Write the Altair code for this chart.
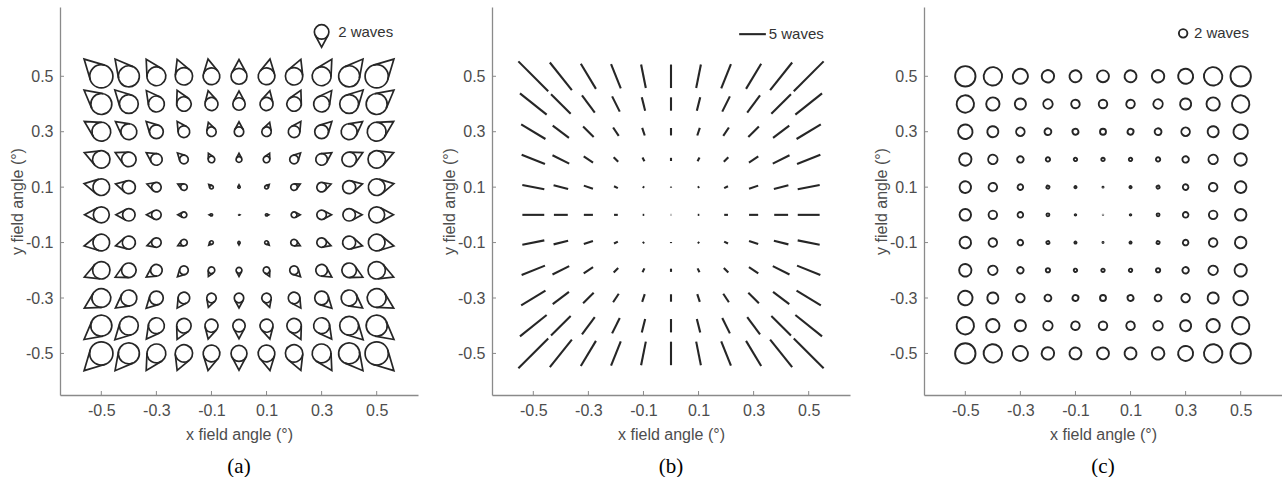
import altair as alt
import pandas as pd
import numpy as np

# ---------------- data ----------------
xs = [-0.5, -0.4, -0.3, -0.2, -0.1, 0.0, 0.1, 0.2, 0.3, 0.4, 0.5]
ys = [0.5, 0.4, 0.3, 0.2, 0.1, 0.0, -0.1, -0.2, -0.3, -0.4, -0.5]   # rows, top to bottom
tick_vals = [-0.5, -0.3, -0.1, 0.1, 0.3, 0.5]

# (a) coma blur circle diameter, waves
coma_rows = [
    [3.2, 2.9, 2.6, 2.4, 2.3, 2.2, 2.3, 2.4, 2.6, 2.9, 3.2],
    [2.9, 2.6, 2.2, 2.0, 1.8, 1.7, 1.8, 2.0, 2.2, 2.6, 2.9],
    [2.6, 2.2, 1.9, 1.6, 1.3, 1.3, 1.3, 1.6, 1.9, 2.2, 2.6],
    [2.4, 2.0, 1.6, 1.2, 0.9, 0.8, 0.9, 1.2, 1.6, 2.0, 2.4],
    [2.3, 1.8, 1.3, 0.9, 0.5, 0.3, 0.5, 0.9, 1.3, 1.8, 2.3],
    [2.2, 1.7, 1.3, 0.8, 0.3, 0.1, 0.3, 0.8, 1.3, 1.7, 2.2],
    [2.3, 1.8, 1.3, 0.9, 0.5, 0.3, 0.5, 0.9, 1.3, 1.8, 2.3],
    [2.4, 2.0, 1.6, 1.2, 0.9, 0.8, 0.9, 1.2, 1.6, 2.0, 2.4],
    [2.6, 2.2, 1.9, 1.6, 1.3, 1.3, 1.3, 1.6, 1.9, 2.2, 2.6],
    [2.9, 2.6, 2.2, 2.0, 1.8, 1.7, 1.8, 2.0, 2.2, 2.6, 2.9],
    [3.2, 2.9, 2.6, 2.4, 2.3, 2.2, 2.3, 2.4, 2.6, 2.9, 3.2],
]

# (b) astigmatism line length, waves
astig_rows = [
    [7.9, 6.6, 5.5, 4.9, 4.5, 4.4, 4.5, 4.9, 5.5, 6.6, 7.9],
    [6.4, 5.2, 4.0, 3.2, 2.6, 2.5, 2.6, 3.2, 4.0, 5.2, 6.4],
    [5.3, 3.8, 2.8, 1.9, 1.5, 1.4, 1.5, 1.9, 2.8, 3.8, 5.3],
    [4.7, 3.5, 2.1, 1.2, 0.8, 0.6, 0.8, 1.2, 2.1, 3.5, 4.7],
    [4.2, 2.8, 1.8, 0.8, 0.35, 0.2, 0.35, 0.8, 1.8, 2.8, 4.2],
    [4.1, 2.6, 1.7, 0.7, 0.3, 0.1, 0.3, 0.7, 1.7, 2.6, 4.1],
    [4.2, 2.8, 1.8, 0.8, 0.35, 0.2, 0.35, 0.8, 1.8, 2.8, 4.2],
    [4.7, 3.5, 2.1, 1.2, 0.8, 0.6, 0.8, 1.2, 2.1, 3.5, 4.7],
    [5.3, 3.8, 2.8, 1.9, 1.5, 1.4, 1.5, 1.9, 2.8, 3.8, 5.3],
    [6.4, 5.2, 4.0, 3.2, 2.6, 2.5, 2.6, 3.2, 4.0, 5.2, 6.4],
    [7.9, 6.6, 5.5, 4.9, 4.5, 4.4, 4.5, 4.9, 5.5, 6.6, 7.9],
]

# (c) defocus blur circle diameter, waves
defocus_rows = [
    [4.8, 4.3, 3.5, 2.9, 2.8, 2.8, 2.8, 2.9, 3.5, 4.3, 4.8],
    [4.1, 3.1, 2.6, 2.2, 2.0, 2.0, 2.0, 2.2, 2.6, 3.1, 4.1],
    [3.4, 2.6, 2.0, 1.6, 1.4, 1.4, 1.4, 1.6, 2.0, 2.6, 3.4],
    [2.9, 2.2, 1.5, 1.0, 0.8, 0.8, 0.8, 1.0, 1.5, 2.2, 2.9],
    [2.7, 2.0, 1.3, 0.7, 0.5, 0.25, 0.5, 0.7, 1.3, 2.0, 2.7],
    [2.7, 2.0, 1.3, 0.7, 0.35, 0.1, 0.35, 0.7, 1.3, 2.0, 2.7],
    [2.7, 2.0, 1.3, 0.7, 0.5, 0.25, 0.5, 0.7, 1.3, 2.0, 2.7],
    [2.9, 2.2, 1.5, 1.0, 0.8, 0.8, 0.8, 1.0, 1.5, 2.2, 2.9],
    [3.4, 2.6, 2.0, 1.6, 1.4, 1.4, 1.4, 1.6, 2.0, 2.6, 3.4],
    [4.1, 3.1, 2.6, 2.2, 2.0, 2.0, 2.0, 2.2, 2.6, 3.1, 4.1],
    [4.8, 4.3, 3.5, 2.9, 2.8, 2.8, 2.8, 2.9, 3.5, 4.3, 4.8],
]

legend_labels = ["2 waves", "5 waves", "2 waves"]
legend_values = [2, 5, 2]
panel_labels = ["(a)", "(b)", "(c)"]

# ---------------- styling ----------------
W, H = 358, 388
XDOM = [-0.65, 0.65]
YDOM = [-0.65, 0.75]
INK = "#262626"
AXIS_GRAY = "#8a8a8a"
TEXT_GRAY = "#4d4d4d"
# open cone of the coma glyph, in units of the circle radius (apex points "up")
WEDGE_SHAPE = "M0.879,-0.475L0,-2.1L-0.879,-0.475"


def grid_frame(rows):
    recs = []
    for yi, y in enumerate(ys):
        for xi, x in enumerate(xs):
            recs.append({"x": x, "y": y, "v": rows[yi][xi]})
    df = pd.DataFrame(recs)
    theta = np.degrees(np.arctan2(df["y"], df["x"]))
    df["rot_out"] = (90 - theta) % 360          # symbol pointing radially outward
    df["rot_line"] = (-theta) % 360             # line along the radial direction
    return df


xscale = alt.Scale(domain=XDOM, nice=False, zero=False)
yscale = alt.Scale(domain=YDOM, nice=False, zero=False)
label_expr = "replace(format(datum.value, '.1f'), '\u2212', '-')"

XAX = alt.Axis(values=tick_vals, labelExpr=label_expr, title="x field angle (°)",
               ticks=False, tickSize=0, grid=False, domainColor=AXIS_GRAY,
               domainWidth=1.3, labelPadding=7, titlePadding=8)
YAX = alt.Axis(values=tick_vals, labelExpr=label_expr, title="y field angle (°)",
               ticks=False, tickSize=0, grid=False, domainColor=AXIS_GRAY,
               domainWidth=1.3, labelPadding=7, titlePadding=0)


def X(f):
    return alt.X(f"{f}:Q", scale=xscale, axis=XAX, title="x field angle (°)")


def Y(f):
    return alt.Y(f"{f}:Q", scale=yscale, axis=YAX, title="y field angle (°)")


def inner_ticks():
    tdf = pd.DataFrame({"t": tick_vals})
    tx = alt.Chart(tdf).mark_rule(color=AXIS_GRAY, strokeWidth=1).encode(
        x=X("t"), y=alt.value(H), y2=alt.value(H - 4))
    ty = alt.Chart(tdf).mark_rule(color=AXIS_GRAY, strokeWidth=1).encode(
        y=Y("t"), x=alt.value(0), x2=alt.value(4))
    return [tx, ty]


def glyph_layer(df, shape, size_scale, rot_field, sw):
    return alt.Chart(df).mark_point(shape=shape, filled=False, color=INK,
                                    strokeWidth=sw, opacity=1).encode(
        x=X("x"), y=Y("y"),
        size=alt.Size("v:Q", scale=size_scale, legend=None),
        angle=alt.Angle(f"{rot_field}:Q", scale=alt.Scale(domain=[0, 360], range=[0, 360])),
    )


def panel(rows, shapes, ppw, vmax, rot_field, leg_x, leg_y, leg_rot, leg_val,
          leg_text, text_x, label, sw):
    df = grid_frame(rows)
    size_scale = alt.Scale(type="pow", exponent=2, domain=[0, vmax],
                           range=[0, (vmax * ppw) ** 2])
    ldf = pd.DataFrame({"x": [leg_x], "y": [leg_y], "v": [leg_val], "rot": [leg_rot]})
    layers = []
    for s in shapes:
        layers.append(glyph_layer(df, s, size_scale, rot_field, sw))
        layers.append(glyph_layer(ldf, s, size_scale, "rot", sw))
    tdf = pd.DataFrame({"x": [text_x], "y": [leg_y], "t": [leg_text]})
    lt = alt.Chart(tdf).mark_text(align="left", baseline="middle", font="Liberation Sans",
                                  fontSize=15, color="#333333").encode(
        x=X("x"), y=Y("y"), text="t:N")
    layers.append(lt)
    layers += inner_ticks()
    return alt.layer(*layers).properties(
        width=W, height=H,
        title=alt.TitleParams(text=label, orient="bottom", anchor="middle",
                              font="Liberation Serif", fontSize=21,
                              fontWeight="normal", color="black", offset=14),
    )


pa = panel(coma_rows, ["circle", WEDGE_SHAPE], 7.25, 4, "rot_out", 0.30, 0.66, 180,
           legend_values[0], legend_labels[0], 0.36, panel_labels[0], 1.7)
pb = panel(astig_rows, ["stroke"], 5.34, 10, "rot_line", 0.296, 0.652, 0,
           legend_values[1], legend_labels[1], 0.355, panel_labels[1], 2.1)
pc = panel(defocus_rows, ["circle"], 4.25, 6, "rot_line", 0.291, 0.655, 0,
           legend_values[2], legend_labels[2], 0.33, panel_labels[2], 1.9)

chart = alt.hconcat(pa, pb, pc, spacing=74, bounds="flush").resolve_scale(
    x="independent", y="independent", size="independent", angle="independent"
).properties(
    padding={"left": 9, "top": 7, "right": 0, "bottom": 0}
).configure_view(stroke=None).configure_axis(
    labelFont="Liberation Sans", labelFontSize=16, labelColor=TEXT_GRAY,
    titleFont="Liberation Sans", titleFontSize=16, titleFontWeight="normal",
    titleColor=TEXT_GRAY,
)

chart.save("out.html", embed_options={"renderer": "svg", "actions": False})
